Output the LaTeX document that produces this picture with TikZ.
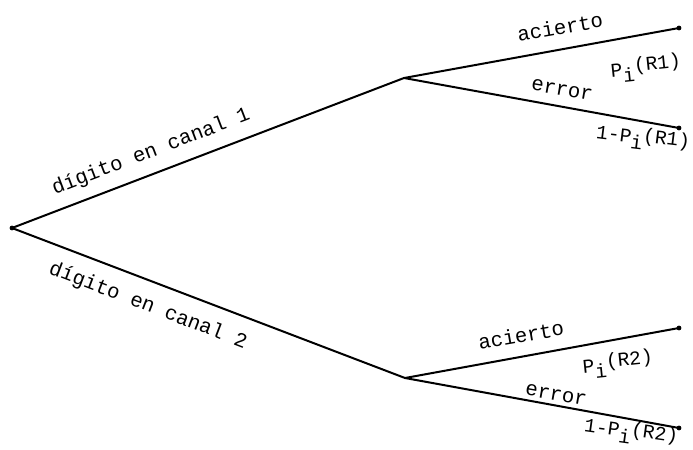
\documentclass[tikz,border=0pt]{standalone}
\usepackage{fontspec}
\setmonofont{Liberation Mono}
\begin{document}
\begin{tikzpicture}[x=0.5pt,y=-0.5pt,
  branch/.style={line width=1pt},
  dot/.style={circle,fill=black,inner sep=0pt,minimum size=2.4pt},
  lbl/.style={font=\ttfamily\fontsize{10.3}{12}\selectfont,inner sep=0pt},
  plbl/.style={font=\ttfamily\fontsize{9.8}{11}\selectfont,inner sep=0pt}]
\newcommand{\subi}{\raisebox{-0.6ex}{i}}
\useasboundingbox (0,0) rectangle (693,450);
\node[dot] (root) at (12,228) {};
\coordinate (m1) at (404,78);
\coordinate (m2) at (405,378);
\node[dot] (l1) at (679,28) {};
\node[dot] (l2) at (679,128) {};
\node[dot] (l3) at (679,328) {};
\node[dot] (l4) at (679,428) {};
\draw[branch] (root.center) -- (m1) -- (l1.center);
\draw[branch] (m1) -- (l2.center);
\draw[branch] (root.center) -- (m2) -- (l3.center);
\draw[branch] (m2) -- (l4.center);
\node[lbl,rotate=21] (t1) at (151,152) {dígito en canal 1};
\node[lbl,rotate=-21] (t2) at (148,306) {dígito en canal 2};
\node[lbl,rotate=10] (a1) at (560,27) {acierto};
\node[lbl,rotate=-10] (e1) at (562,90) {error};
\node[plbl,rotate=6] (p1) at (646,68) {P\subi\raisebox{0.3ex}{(R1)}};
\node[plbl,rotate=-7] (q1) at (643,139) {1-P\subi\raisebox{0.2ex}{(R1)}};
\node[lbl,rotate=10] (a2) at (521,335) {acierto};
\node[lbl,rotate=-10] (e2) at (556,395) {error};
\node[plbl,rotate=6] (p2) at (618,364) {P\subi\raisebox{0.3ex}{(R2)}};
\node[plbl,rotate=-8] (q2) at (631,433) {1-P\subi\raisebox{0.2ex}{(R2)}};
\end{tikzpicture}
\end{document}
